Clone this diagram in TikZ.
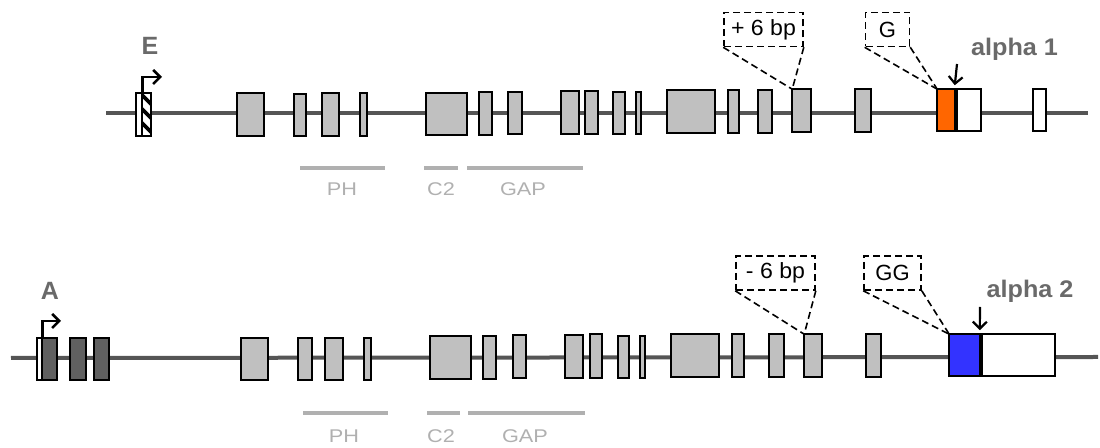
\documentclass[tikz,border=0pt]{standalone}
\usepackage{fontspec}
\setmainfont{Liberation Sans}
\usetikzlibrary{arrows.meta}

\definecolor{exongray}{HTML}{C0C0C0}
\definecolor{backbonegray}{HTML}{555555}
\definecolor{darkexon}{HTML}{606060}
\definecolor{orangeexon}{HTML}{FF6600}
\definecolor{blueexon}{HTML}{3333FF}
\definecolor{namegray}{HTML}{6A6A6A}
\definecolor{domaingray}{HTML}{B0B0B0}

% exon box from x1 to x2 and y1 to y2 (pixel grid, y downwards)
\newcommand\exon[6]{%
  \node[#6, minimum width={(#3-#2)*0.5pt-1.2pt}, minimum height={(#5-#4)*0.5pt-1.2pt}]
    (#1) at ({(#2+#3)/2},{(#4+#5)/2}) {};}

\tikzset{
  exon/.style={rectangle, draw=black, line width=1.2pt, fill=exongray,
    inner sep=0pt, outer sep=0pt},
  utr/.style={exon, fill=white},
  darkex/.style={exon, fill=darkexon},
  orangeex/.style={exon, fill=orangeexon},
  blueex/.style={exon, fill=blueexon},
  hatchex/.style={exon, fill=white, path picture={
      \foreach \k in {-6,...,2}
        \draw[line width=1.8pt, line cap=butt]
          ([yshift=\k*7pt, xshift=-1pt]path picture bounding box.north west) -- ++(14,14);}},
  backbone/.style={draw=backbonegray, line width=2pt},
  domainbar/.style={draw=domaingray, line width=2pt},
  domaintext/.style={text=domaingray, font=\fontsize{9.2}{10}\selectfont, anchor=base,
    inner sep=0pt},
  genename/.style={text=namegray, font=\bfseries\fontsize{12.5}{14}\selectfont, anchor=base,
    inner sep=0pt},
  isoname/.style={text=namegray, font=\bfseries\fontsize{12}{14}\selectfont, anchor=base,
    inner sep=0pt},
  callout/.style={rectangle, draw=black, dash pattern=on 3.5pt off 2pt,
    line width=0.8pt, font=\fontsize{11}{13}\selectfont, inner sep=0pt},
  calloutline/.style={draw=black, dash pattern=on 3.5pt off 2pt, line width=0.8pt},
  promoter/.style={draw=black, line width=1.3pt,
    -{Straight Barb[length=3.5pt, width=7pt, line width=1.3pt]}},
  pointer/.style={draw=black, line width=1.1pt,
    -{Straight Barb[length=3.5pt, width=7pt, line width=1.1pt]}},
}

\begin{document}
\begin{tikzpicture}[x=0.5pt, y=-0.5pt]
\useasboundingbox (0,0) rectangle (1100,448);

% ---------------- alpha 1 transcript (promoter E) ----------------
\coordinate (t-start) at (106,113.5);
\coordinate (t-end) at (1088,113.5);
\draw[backbone] (t-start) -- (t-end);

\exon{e0}{135}{152}{92}{137}{utr}
\exon{e0h}{141}{152}{92}{137}{hatchex}
\exon{t1}{236}{265}{92}{137}{exon}
\exon{t2}{293}{307}{93}{137}{exon}
\exon{t3}{321}{340}{92}{137}{exon}
\exon{t4}{359}{368}{92}{137}{exon}
\exon{t5}{425}{468}{92}{136}{exon}
\exon{t6}{478}{493}{91}{136}{exon}
\exon{t7}{507}{523}{91}{135}{exon}
\exon{t8}{560}{580}{90}{135}{exon}
\exon{t9}{584}{599}{90}{135}{exon}
\exon{t10}{612}{626}{91}{135}{exon}
\exon{t11}{635}{642}{91}{135}{exon}
\exon{t12}{666}{716}{89}{134}{exon}
\exon{t13}{727}{740}{89}{134}{exon}
\exon{t14}{757}{773}{89}{134}{exon}
\exon{t15}{791}{812}{88}{133}{exon}
\exon{t16}{854}{872}{88}{133}{exon}
\exon{t17}{936}{956}{88}{132}{orangeex}
\exon{t17u}{956}{982}{88}{132}{utr}
\exon{t18}{1032}{1047}{88}{132}{utr}

\node[genename] (E) at (150,55) {E};
\coordinate (E-tss) at (162,77);
\draw[promoter] (e0h.north west) |- (E-tss);

\node[callout, minimum width=39.5pt, minimum height=17pt] (plus6) at (763.5,29.5)
  {\scalebox{1.05}[1]{+ 6 bp}};
\draw[calloutline] (plus6.south west) -- (t15.north west);
\draw[calloutline] (plus6.south east) -- (t15.north west);

\node[callout, minimum width=22pt, minimum height=17pt] (insG) at (887.5,29.5) {G};
\draw[calloutline] (insG.south west) -- (t17.north west);
\draw[calloutline] (insG.south east) -- (t17.north west);

\node[isoname] (alpha1) at (1014.5,56) {\scalebox{1.05}[1]{alpha 1}};
\coordinate (a1-top) at (957,64);
\draw[pointer] (a1-top) -- ([yshift=2pt]t17.north east);

\coordinate (ph1-a) at (300,168);  \coordinate (ph1-b) at (385,168);
\coordinate (c21-a) at (424,168);  \coordinate (c21-b) at (458,168);
\coordinate (gap1-a) at (467,168); \coordinate (gap1-b) at (583,168);
\draw[domainbar] (ph1-a) -- (ph1-b);
\draw[domainbar] (c21-a) -- (c21-b);
\draw[domainbar] (gap1-a) -- (gap1-b);
\node[domaintext] (ph1) at (342,196) {\scalebox{1.18}[1]{PH}};
\node[domaintext] (c21) at (441,196) {\scalebox{1.18}[1]{C2}};
\node[domaintext] (gap1) at (523,196) {\scalebox{1.18}[1]{GAP}};

% ---------------- alpha 2 transcript (promoter A) ----------------
\coordinate (b-start) at (11,358);
\coordinate (b-end) at (1098,357);
\draw[backbone] (b-start) -- (b-end);

\exon{a0}{36}{58}{337}{381}{utr}
\exon{a1}{41}{58}{337}{381}{darkex}
\exon{a2}{69}{87}{337}{381}{darkex}
\exon{a3}{93}{110}{337}{381}{darkex}
\exon{b1}{240}{269}{337}{381}{exon}
\exon{b2}{297}{313}{337}{381}{exon}
\exon{b3}{324}{344}{337}{381}{exon}
\exon{b4}{363}{372}{337}{381}{exon}
\exon{b5}{429}{472}{335}{380}{exon}
\exon{b6}{482}{497}{335}{380}{exon}
\exon{b7}{512}{527}{334}{379}{exon}
\exon{b8}{564}{584}{334}{379}{exon}
\exon{b9}{589}{603}{333}{379}{exon}
\exon{b10}{617}{630}{335}{379}{exon}
\exon{b11}{639}{646}{335}{379}{exon}
\exon{b12}{670}{720}{333}{378}{exon}
\exon{b13}{731}{745}{333}{378}{exon}
\exon{b14}{768}{785}{333}{378}{exon}
\exon{b15}{803}{823}{333}{378}{exon}
\exon{b16}{865}{882}{333}{378}{exon}
\exon{b17}{948}{981}{333}{377}{blueex}
\exon{b17u}{981}{1056}{333}{377}{utr}

\node[genename] (A) at (50,300) {A};
\coordinate (A-tss) at (61,321);
\draw[promoter] (a1.north west) |- (A-tss);

\node[callout, minimum width=39.5pt, minimum height=17pt] (minus6) at (775.5,273)
  {\scalebox{1.05}[1]{- 6 bp}};
\draw[calloutline] (minus6.south west) -- (b15.north west);
\draw[calloutline] (minus6.south east) -- (b15.north west);

\node[callout, minimum width=28.5pt, minimum height=17pt] (insGG) at (892.5,273) {GG};
\draw[calloutline] (insGG.south west) -- (b17.north west);
\draw[calloutline] (insGG.south east) -- (b17.north west);

\node[isoname] (alpha2) at (1030,298) {\scalebox{1.05}[1]{alpha 2}};
\coordinate (a2-top) at (980,307);
\draw[pointer] (a2-top) -- ([yshift=2pt]b17.north east);

\coordinate (ph2-a) at (303,413);  \coordinate (ph2-b) at (388,413);
\coordinate (c22-a) at (427,413);  \coordinate (c22-b) at (460,413);
\coordinate (gap2-a) at (468,413); \coordinate (gap2-b) at (585,413);
\draw[domainbar] (ph2-a) -- (ph2-b);
\draw[domainbar] (c22-a) -- (c22-b);
\draw[domainbar] (gap2-a) -- (gap2-b);
\node[domaintext] (ph2) at (344,443) {\scalebox{1.18}[1]{PH}};
\node[domaintext] (c22) at (441,443) {\scalebox{1.18}[1]{C2}};
\node[domaintext] (gap2) at (525,443) {\scalebox{1.18}[1]{GAP}};
\end{tikzpicture}
\end{document}
